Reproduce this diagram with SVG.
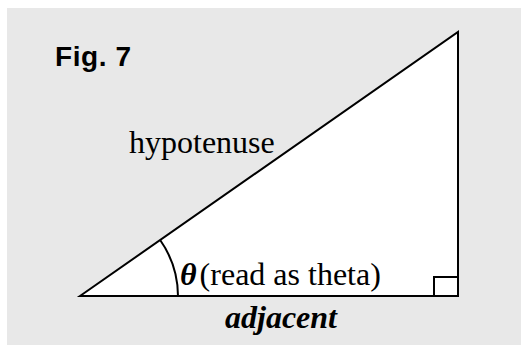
<svg xmlns="http://www.w3.org/2000/svg" width="521" height="345" viewBox="0 0 521 345">
<style>
.serif{font-family:"Liberation Serif","Times New Roman",serif;font-size:32px;fill:#000}
.fig{font-family:"Liberation Sans",Arial,sans-serif;font-weight:bold;font-size:28px;letter-spacing:0.6px;fill:#000}
.ln{fill:none;stroke:#000;stroke-width:2}
</style>
<rect x="0" y="0" width="521" height="345" fill="#ffffff"/>
<rect x="7" y="8" width="514" height="337" fill="#e8e8e8"/>
<g id="title"><text class="fig" x="55" y="66">Fig. 7</text></g>
<g id="triangle">
<polygon points="80,296 458,32 458,296" fill="#ffffff" stroke="#000" stroke-width="2" stroke-linejoin="miter"/>
</g>
<g id="connectors">
<path class="ln" d="M178,296 A98,98 0 0 0 160.3,240.3"/>
<rect class="ln" x="434" y="277" width="24" height="19"/>
</g>
<g id="labels">
<text class="serif" x="129" y="153">hypotenuse</text>
<text class="serif" x="180" y="285"><tspan font-weight="bold" font-style="italic">θ</tspan><tspan dx="3">(read as theta)</tspan></text>
<text class="serif" x="225" y="328" font-weight="bold" font-style="italic">adjacent</text>
</g>
</svg>
